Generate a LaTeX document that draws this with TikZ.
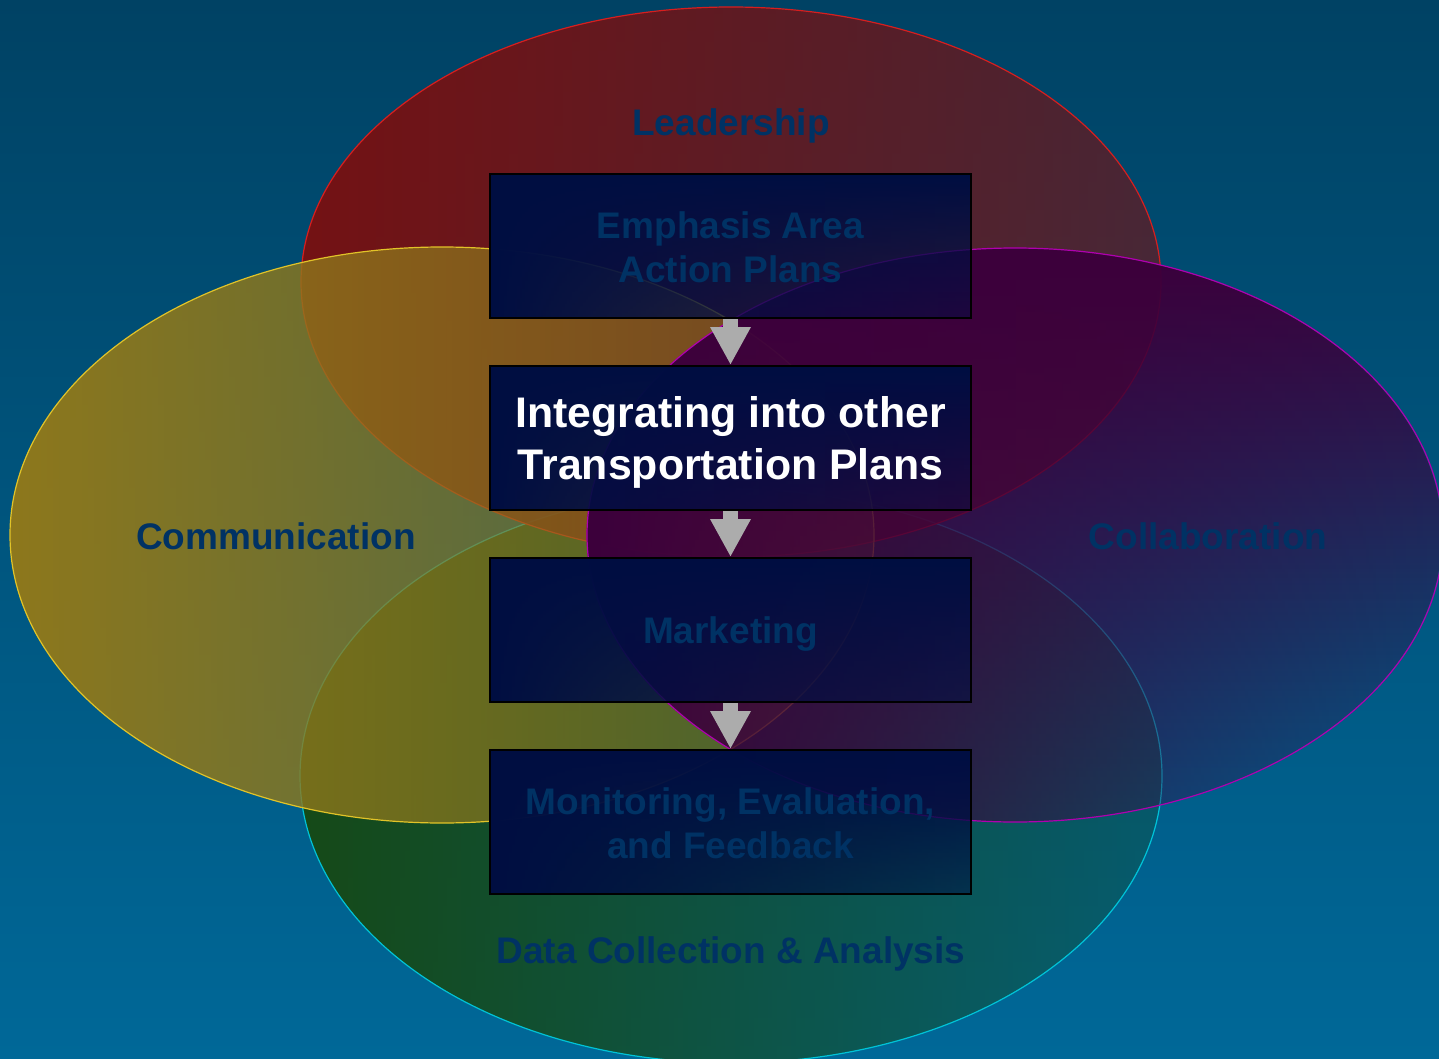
\documentclass[tikz,border=0pt]{standalone}
\usepackage{fontspec}
\setmainfont{Liberation Sans}
\usetikzlibrary{fadings,arrows.meta}
\definecolor{bgT}{RGB}{0,66,100}
\definecolor{bgM}{RGB}{0,90,136}
\definecolor{bgB}{RGB}{0,104,152}
\definecolor{redF}{RGB}{116,18,20}
\definecolor{redS}{RGB}{215,30,30}
\definecolor{yelF}{RGB}{142,120,28}
\definecolor{yelS}{RGB}{225,195,40}
\definecolor{purF}{RGB}{60,0,60}
\definecolor{purS}{RGB}{175,0,175}
\definecolor{grnF}{RGB}{22,74,24}
\definecolor{grnS}{RGB}{0,195,215}
\definecolor{navy}{RGB}{0,14,66}
\definecolor{txtB}{RGB}{0,50,100}
\definecolor{arrG}{RGB}{172,172,172}
\tikzfading[name=fadeRed, left color=transparent!0, right color=transparent!38]
\tikzfading[name=fadeYel, left color=transparent!0, middle color=transparent!12, right color=transparent!58]
\tikzfading[name=fadePurV, top color=transparent!0, bottom color=transparent!100]
\tikzfading[name=fadePurH, left color=transparent!0, right color=transparent!100]
\tikzfading[name=fadeGrn, left color=transparent!0, right color=transparent!72]
\tikzfading[name=fadeBoxV, top color=transparent!0, bottom color=transparent!70]
\tikzfading[name=fadeBoxH, left color=transparent!0, right color=transparent!72]
\tikzset{
  stepbox/.style={draw=black, line width=1pt, minimum width=240.5pt, minimum height=72pt,
    inner sep=0pt, preaction={fill=navy, path fading=fadeBoxV},
    preaction={fill=navy, path fading=fadeBoxH}},
  boxtext/.style={inner sep=0pt, align=center, text=txtB,
    font=\fontsize{18.5}{22}\selectfont\bfseries},
  hitext/.style={boxtext, text=white, font=\fontsize{21.4}{26}\selectfont\bfseries},
  lab/.style={text=txtB, font=\fontsize{18.5}{22}\selectfont\bfseries, inner sep=0pt},
  flowarr/.style={draw=arrG, line width=7.5pt, -{Triangle[width=19pt,length=19pt]}},
  ringline/.style={line width=0.6pt}
}
\begin{document}
\begin{tikzpicture}[x=0.5pt,y=-0.5pt]
\useasboundingbox (0,0) rectangle (1439,1059);
\shade[top color=bgT, middle color=bgM, bottom color=bgB] (0,0) rectangle (1439,1059);
% ellipses
\fill[grnF, path fading=fadeGrn] (731,776) ellipse [x radius=215.5pt, y radius=143.5pt];
\draw[grnS, ringline] (731,776) ellipse [x radius=215.5pt, y radius=143.5pt];
\fill[redF, path fading=fadeRed] (731,282) ellipse [x radius=215pt, y radius=137.5pt];
\draw[redS, ringline] (731,282) ellipse [x radius=215pt, y radius=137.5pt];
\fill[yelF, path fading=fadeYel] (442,535) ellipse [x radius=216pt, y radius=144pt];
\draw[yelS, ringline] (442,535) ellipse [x radius=216pt, y radius=144pt];
\fill[purF, path fading=fadePurV] (1015,535) ellipse [x radius=214pt, y radius=143.5pt];
\fill[purF, path fading=fadePurH] (1015,535) ellipse [x radius=214pt, y radius=143.5pt];
\draw[purS, ringline] (1015,535) ellipse [x radius=214pt, y radius=143.5pt];
% labels
\node[lab] (lead) at (731,126) {Leadership};
\node[lab] (comm) at (276,536) {Communication};
\node[lab] (coll) at (1208,536) {Collaboration};
\node[lab] (data) at (731,954) {Data Collection \& Analysis};
% boxes
\node[stepbox] (b1) at (730.5,246) {};
\node[stepbox] (b2) at (730.5,438) {};
\node[stepbox] (b3) at (730.5,630) {};
\node[stepbox] (b4) at (730.5,822) {};
\node[boxtext] (t1) at ([yshift=-0.5pt]b1.center) {Emphasis Area\\Action Plans};
\node[hitext] (t2) at ([yshift=-2pt]b2.center) {Integrating into other\\Transportation Plans};
\node[boxtext] (t3) at ([yshift=-2pt]b3.center) {Marketing};
\node[boxtext] (t4) at ([yshift=-0.5pt]b4.center) {Monitoring, Evaluation,\\and Feedback};
% arrows
\draw[flowarr] (b1.south) -- (b2.north);
\draw[flowarr] (b2.south) -- (b3.north);
\draw[flowarr] (b3.south) -- (b4.north);
\end{tikzpicture}
\end{document}
